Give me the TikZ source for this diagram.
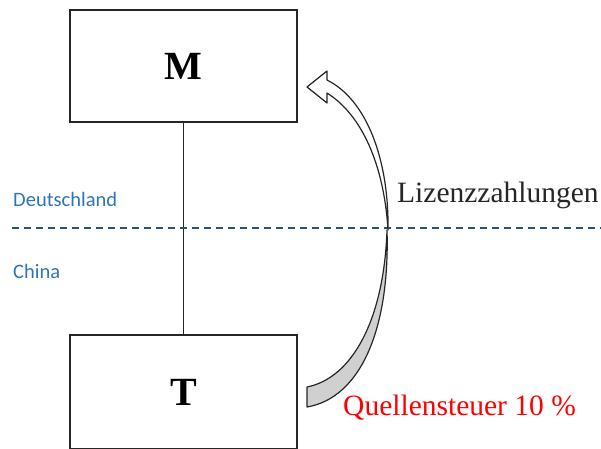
\documentclass[tikz,border=0pt]{standalone}
\usepackage{fontspec}
\setmainfont{Liberation Serif}
\newfontfamily\labelfont{Carlito}
\definecolor{boxline}{RGB}{38,38,38}
\definecolor{dashblue}{RGB}{31,85,120}
\definecolor{countryblue}{RGB}{46,117,182}
\definecolor{arrowgray}{RGB}{208,208,208}
\begin{document}
\begin{tikzpicture}[x=1pt,y=-1pt,
  box/.style={draw=boxline,line width=1.8pt,minimum width=227pt,inner sep=0pt,font=\fontsize{40}{42}\selectfont\bfseries},
  country/.style={text=countryblue,font=\labelfont\fontsize{20.5}{22}\selectfont,anchor=west,inner sep=0pt},
  biglabel/.style={font=\fontsize{29.5}{31}\selectfont,anchor=west,inner sep=0pt},
  ribbon/.style={draw=boxline,line width=1.2pt,line join=round}]
\useasboundingbox (0,0) rectangle (601,448);
\node[box,minimum height=112pt] (M) at (183.5,66) {M};
\node[box,minimum height=114pt] (T) at (183.5,392) {T};
\draw[boxline,line width=1.5pt] (M.south) -- (T.north);
\coordinate (DL) at (12,228);
\coordinate (DR) at (601,228);
\draw[dashblue,line width=1.8pt,dash pattern=on 7pt off 5pt] (DL) -- (DR);
\node[country] (DE) at (13,199) {Deutschland};
\node[country] (CN) at (13,271) {China};
% gray back part of the curved arrow
\filldraw[ribbon,fill=arrowgray] (387,230) .. controls (390,330) and (360,398) .. (307,407)
  -- (307,387) .. controls (352,378) and (384,320) .. (387,230) -- cycle;
% white front part with the head
\filldraw[ribbon,fill=white] (307,87) -- (327,71) -- (327,80)
  .. controls (367,100) and (389,160) .. (388,230)
  .. controls (384,165) and (362,115) .. (327,93)
  -- (327,103) -- cycle;
\node[biglabel,text=boxline] (LZ) at (397,195) {Lizenzzahlungen};
\node[biglabel,text=red] (QS) at (343,408) {Quellensteuer 10 \%};
\end{tikzpicture}
\end{document}
